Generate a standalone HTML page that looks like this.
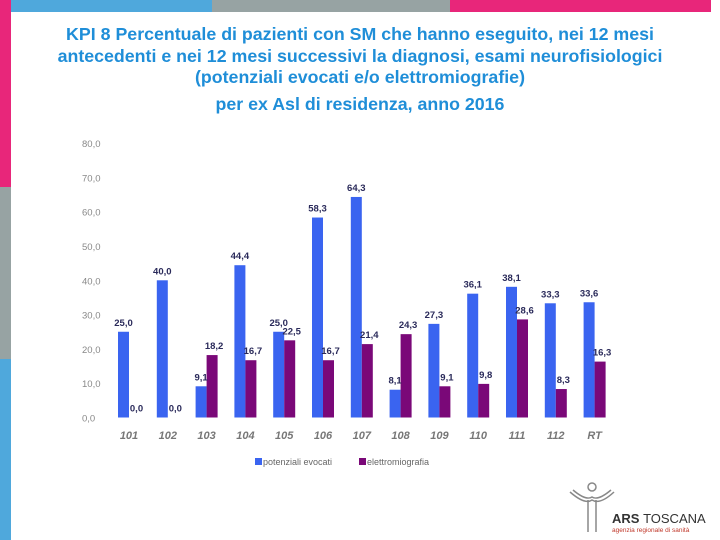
<!DOCTYPE html>
<html><head><meta charset="utf-8"><style>
body{margin:0;width:720px;height:540px;overflow:hidden;background:#fff;font-family:"Liberation Sans",sans-serif;position:relative}
.a{position:absolute}
#title{left:20px;top:24px;width:680px;text-align:center;color:#1f8ed8;font-weight:bold;font-size:17.8px;line-height:21.5px}
</style></head><body>
<div class="a" style="left:0;top:0;width:11px;height:187px;background:#e8267a"></div>
<div class="a" style="left:0;top:187px;width:11px;height:172px;background:#97a3a3"></div>
<div class="a" style="left:0;top:359px;width:11px;height:181px;background:#4fa8dc"></div>
<div class="a" style="left:11px;top:0;width:201px;height:12px;background:#4fa8dc"></div>
<div class="a" style="left:212px;top:0;width:238px;height:12px;background:#97a3a3"></div>
<div class="a" style="left:450px;top:0;width:261px;height:12px;background:#e8267a"></div>
<div id="title" class="a">KPI 8 Percentuale di pazienti con SM che hanno eseguito, nei 12 mesi<br>antecedenti e nei 12 mesi successivi la diagnosi, esami neurofisiologici<br>(potenziali evocati e/o elettromiografie)<div style="margin-top:5px">per ex Asl di residenza, anno 2016</div></div>
<svg class="a" style="left:0;top:0" width="720" height="540">
<g id="g"></g>
<g fill="none" stroke="#888" stroke-width="1.5">
<circle cx="592" cy="487" r="4"/>
<path d="M570 492 Q585 505 592 500 Q600 505 614 492 M573 490 Q586 501 592 497 Q598 501 611 490"/>
<path d="M588 500 L588 532 M596 500 L596 532"/>
</g>
<text x="612" y="523" font-size="13" font-weight="bold" fill="#333">ARS <tspan font-weight="normal">TOSCANA</tspan></text>
<text x="612" y="532" font-size="6.5" fill="#c0392b">agenzia regionale di sanità</text>
</svg>
<script>
const categories=["101","102","103","104","105","106","107","108","109","110","111","112","RT"];
const potenziali=[25.0,40.0,9.1,44.4,25.0,58.3,64.3,8.1,27.3,36.1,38.1,33.3,33.6];
const elettro=[0.0,0.0,18.2,16.7,22.5,16.7,21.4,24.3,9.1,9.8,28.6,8.3,16.3];
const yTicks=[0,10,20,30,40,50,60,70,80];
const NS="http://www.w3.org/2000/svg",g=document.getElementById('g');
const y0=417.5,yScale=v=>y0-v*3.43,xC=i=>129+i*38.8,bw=11;
const fmt=v=>v.toFixed(1).replace('.',',');
function mk(t,a,txt){const e=document.createElementNS(NS,t);for(const k in a)e.setAttribute(k,a[k]);if(txt!=null)e.textContent=txt;g.appendChild(e);return e;}
yTicks.forEach(v=>{const e=mk('text',{x:82,y:yScale(v)+4,'font-size':9.5,fill:'#888'},fmt(v));

});
categories.forEach((c,i)=>{const x=xC(i);
const b=mk('rect',{x:x-bw,y:yScale(potenziali[i]),width:bw,height:y0-yScale(potenziali[i]),fill:'#3a64f0'});


const p=mk('rect',{x:x,y:yScale(elettro[i]),width:bw,height:y0-yScale(elettro[i]),fill:'#7a0878'});


const l1=mk('text',{x:x-bw/2,y:yScale(potenziali[i])-6,'font-size':9.5,'font-weight':'bold',fill:'#2a2a5a','text-anchor':'middle'},fmt(potenziali[i]));


const l2=mk('text',{x:x+bw/2+2,y:yScale(elettro[i])-6,'font-size':9.5,'font-weight':'bold',fill:'#2a2a5a','text-anchor':'middle'},fmt(elettro[i]));


const cl=mk('text',{x:x,y:439,'font-size':11,'font-style':'italic','font-weight':'bold',fill:'#777','text-anchor':'middle'},c);

});
const lg1=mk('rect',{x:255,y:458,width:7,height:7,fill:'#3a64f0'});


const lt1=mk('text',{x:263,y:465,'font-size':9,fill:'#666'},'potenziali evocati');


const lg2=mk('rect',{x:359,y:458,width:7,height:7,fill:'#7a0878'});


const lt2=mk('text',{x:367,y:465,'font-size':9,fill:'#666'},'elettromiografia');


</script>
</body></html>
